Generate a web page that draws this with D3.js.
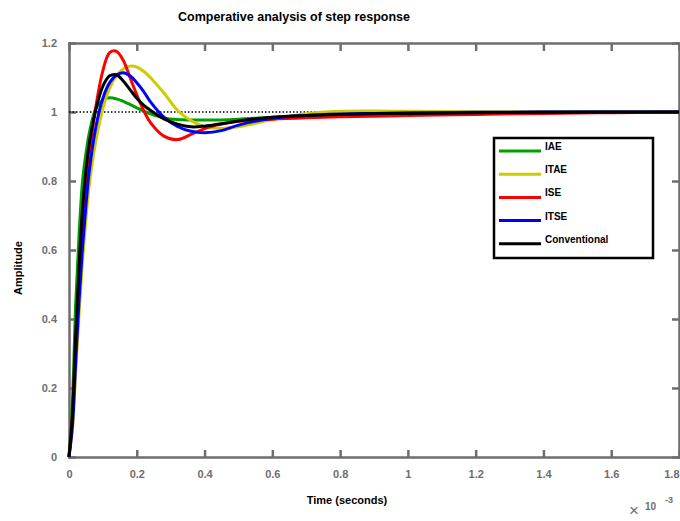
<!DOCTYPE html>
<html>
<head>
<meta charset="utf-8">
<script src="https://cdn.jsdelivr.net/npm/d3@7"></script>
<style>
  body { margin: 0; background: #fff; }
  svg { display: block; font-family: "Liberation Sans", Arial, sans-serif; }
  .axis path, .axis line { stroke: #6e6e6e; stroke-width: 2.5; }
  .axis text { fill: #6e6e6e; font-size: 11px; font-weight: bold; }
</style>
</head>
<body>
<div id="chartContainer"></div>
<script>
// time in ms (axis shows x 10^-3 s)
const time = [0, 0.01, 0.02, 0.03, 0.04, 0.05, 0.06, 0.08, 0.10, 0.12, 0.14, 0.16, 0.18, 0.20, 0.22, 0.24,
  0.28, 0.32, 0.36, 0.40, 0.45, 0.5, 0.6, 0.7, 0.8, 0.9, 1.0, 1.2, 1.4, 1.6, 1.8];

const iae = [0, .16, .45, .65, .80, .88, .94, 1.012, 1.035, 1.041, 1.038, 1.031, 1.022, 1.012, 1.003, .995,
  .983, .978, .977, .977, .977, .979, .985, .989, .992, .995, .997, .999, 1.0, 1.0, 1.0];
const itae = [0, .08, .25, .42, .57, .69, .79, .92, 1.01, 1.07, 1.105, 1.125, 1.133, 1.13, 1.118, 1.10,
  1.055, 1.005, .975, .958, .952, .957, .978, .995, 1.002, 1.003, 1.002, 1.001, 1.0, 1.0, 1.0];
const ise = [0, .12, .33, .52, .69, .80, .88, 1.02, 1.12, 1.172, 1.176, 1.15, 1.10, 1.05, 1.005, .97,
  .93, .92, .935, .952, .965, .973, .979, .983, .986, .988, .990, .993, .996, .998, .999];
const itse = [0, .09, .28, .46, .61, .73, .83, .96, 1.04, 1.085, 1.107, 1.114, 1.105, 1.085, 1.06, 1.03,
  .985, .958, .944, .94, .946, .962, .982, .99, .994, .996, .998, .999, 1.0, 1.0, 1.0];
const conventional = [0, .12, .36, .56, .72, .83, .91, 1.01, 1.075, 1.105, 1.108, 1.09, 1.065, 1.04, 1.02, 1.005,
  .98, .965, .957, .959, .966, .974, .985, .99, .993, .995, .996, .998, .999, 1.0, 1.0];

const seriesNames = ["IAE", "ITAE", "ISE", "ITSE", "Conventional"];
const seriesValues = [iae, itae, ise, itse, conventional];
const seriesColors = ["#00a000", "#cccc00", "#ff0000", "#0000ff", "#000000"];

const xTicks = [0, 0.2, 0.4, 0.6, 0.8, 1, 1.2, 1.4, 1.6, 1.8];
const yTicks = [0, 0.2, 0.4, 0.6, 0.8, 1, 1.2];

const W = 680, H = 521;
const plot = { left: 69, right: 679, top: 43, bottom: 457 };

const svg = d3.select("#chartContainer").append("svg")
  .attr("width", W).attr("height", H);

const x = d3.scaleLinear().domain([0, 1.8]).range([plot.left, plot.right]);
const y = d3.scaleLinear().domain([0, 1.2]).range([plot.bottom, plot.top]);

// axes box with inward ticks
const xAxis = svg.append("g").attr("class", "axis")
  .attr("transform", "translate(0," + plot.bottom + ")")
  .call(d3.axisBottom(x).tickValues(xTicks).tickSizeInner(-7).tickSizeOuter(0).tickPadding(13)
    .tickFormat(d3.format("~g")));
// last label sits at the window edge, keep it inside
xAxis.selectAll(".tick text").filter((d) => d === 1.8).attr("text-anchor", "end").attr("dx", 0);

svg.append("g").attr("class", "axis")
  .attr("transform", "translate(0," + plot.top + ")")
  .call(d3.axisTop(x).tickValues(xTicks).tickSizeInner(-8).tickSizeOuter(0).tickFormat(""));
svg.append("g").attr("class", "axis")
  .attr("transform", "translate(" + plot.left + ",0)")
  .call(d3.axisLeft(y).tickValues(yTicks).tickSizeInner(-7).tickSizeOuter(0).tickPadding(12)
    .tickFormat(d3.format("~g")));
svg.append("g").attr("class", "axis")
  .attr("transform", "translate(" + plot.right + ",0)")
  .call(d3.axisRight(y).tickValues(yTicks).tickSizeInner(-7).tickSizeOuter(0).tickFormat(""));

svg.selectAll(".axis .domain").attr("stroke-linecap", "square");

// reference line at 1
svg.append("line")
  .attr("x1", x(0)).attr("x2", x(1.8))
  .attr("y1", y(1)).attr("y2", y(1))
  .attr("stroke", "#000").attr("stroke-width", 1.3)
  .attr("stroke-dasharray", "1.5,2");

// step responses
const line = d3.line()
  .x((d, i) => x(time[i]))
  .y((d) => y(d))
  .curve(d3.curveCatmullRom.alpha(0.5));

svg.append("g").selectAll("path")
  .data(seriesValues)
  .enter()
  .append("path")
  .attr("d", (d) => line(d))
  .attr("fill", "none")
  .attr("stroke", (d, i) => seriesColors[i])
  .attr("stroke-width", 3)
  .attr("stroke-linejoin", "round");

// title and labels
svg.append("text")
  .attr("x", 294).attr("y", 21)
  .attr("text-anchor", "middle")
  .style("font-size", "12.5px").style("font-weight", "bold")
  .text("Comperative analysis of step response");

svg.append("text")
  .attr("x", 347).attr("y", 504)
  .attr("text-anchor", "middle")
  .style("font-size", "11px").style("font-weight", "bold")
  .text("Time (seconds)");

svg.append("text")
  .attr("transform", "translate(22,268) rotate(-90)")
  .attr("text-anchor", "middle")
  .style("font-size", "11px").style("font-weight", "bold")
  .text("Amplitude");

// exponent label
svg.append("text").attr("x", 629).attr("y", 516)
  .style("font-size", "17px").attr("fill", "#6e6e6e").text("\u00d7");
svg.append("text").attr("x", 645).attr("y", 510)
  .style("font-size", "10px").style("font-weight", "bold").attr("fill", "#6e6e6e").text("10");
svg.append("text").attr("x", 665).attr("y", 503)
  .style("font-size", "9px").style("font-weight", "bold").attr("fill", "#6e6e6e").text("-3");

// legend
const legend = svg.append("g").attr("id", "legend");
legend.append("rect")
  .attr("x", 494).attr("y", 138).attr("width", 159).attr("height", 120)
  .attr("fill", "#fff").attr("stroke", "#000").attr("stroke-width", 2.5);

const legendItems = legend.selectAll(".item")
  .data(seriesNames)
  .enter()
  .append("g")
  .attr("class", "item")
  .attr("transform", (d, i) => "translate(0," + (151 + i * 23.2) + ")");
legendItems.append("line")
  .attr("x1", 499).attr("x2", 541)
  .attr("y1", 0).attr("y2", 0)
  .attr("stroke", (d, i) => seriesColors[i])
  .attr("stroke-width", 3);
legendItems.append("text")
  .attr("x", 545).attr("y", -1)
  .style("font-size", "10px").style("font-weight", "bold")
  .text((d) => d);
</script>
</body>
</html>
